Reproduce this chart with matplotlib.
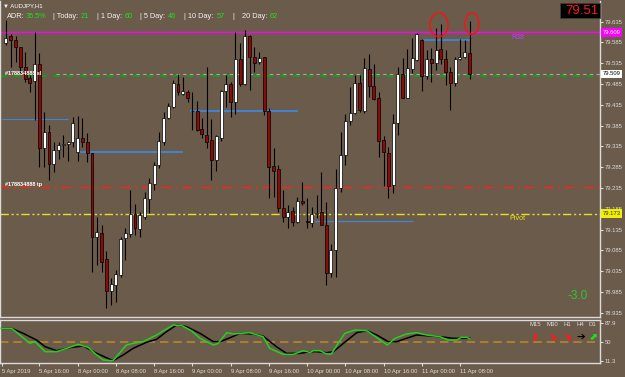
import numpy as np
import matplotlib
matplotlib.use('Agg')
import matplotlib.pyplot as plt
from matplotlib.patches import Ellipse, Rectangle

plt.rcParams['font.family'] = ['Liberation Sans', 'DejaVu Sans']

# AUDJPY H1 candles, 5 Apr 09:00 .. 11 Apr 10:00
opens = [79.583, 79.601, 79.591, 79.573, 79.526, 79.500, 79.492, 79.532, 79.332, 79.369,
         79.292, 79.325, 79.339, 79.340, 79.346, 79.322, 79.354, 79.346, 79.318, 79.118,
         79.126, 79.064, 78.986, 79.002, 79.026, 79.114, 79.124, 79.172, 79.136, 79.166,
         79.208, 79.244, 79.290, 79.346, 79.402, 79.430, 79.485, 79.461, 79.466, 79.421,
         79.421, 79.376, 79.362, 79.350, 79.302, 79.356, 79.468, 79.484, 79.441, 79.544,
         79.485, 79.600, 79.549, 79.537, 79.549, 79.420, 79.288, 79.280, 79.186, 79.166,
         79.179, 79.152, 79.203, 79.155, 79.150, 79.173, 79.176, 79.147, 79.030, 79.086,
         79.234, 79.314, 79.396, 79.414, 79.486, 79.420, 79.521, 79.481, 79.450, 79.350,
         79.320, 79.242, 79.390, 79.508, 79.452, 79.521, 79.542, 79.591, 79.505, 79.545,
         79.536, 79.568, 79.544, 79.513, 79.488, 79.544, 79.550, 79.559]
highs = [79.639, 79.605, 79.601, 79.574, 79.562, 79.506, 79.610, 79.559, 79.418, 79.386,
         79.346, 79.346, 79.362, 79.348, 79.406, 79.409, 79.402, 79.366, 79.318, 79.166,
         79.146, 79.083, 79.018, 79.038, 79.118, 79.138, 79.230, 79.196, 79.178, 79.226,
         79.258, 79.298, 79.370, 79.418, 79.438, 79.494, 79.508, 79.502, 79.470, 79.466,
         79.444, 79.404, 79.526, 79.401, 79.362, 79.470, 79.506, 79.490, 79.609, 79.583,
         79.615, 79.603, 79.574, 79.562, 79.550, 79.426, 79.330, 79.290, 79.230, 79.194,
         79.190, 79.214, 79.250, 79.211, 79.190, 79.218, 79.274, 79.202, 79.099, 79.280,
         79.370, 79.412, 79.478, 79.506, 79.506, 79.548, 79.556, 79.532, 79.466, 79.360,
         79.334, 79.412, 79.526, 79.547, 79.569, 79.596, 79.607, 79.593, 79.566, 79.572,
         79.620, 79.628, 79.567, 79.526, 79.550, 79.593, 79.591, 79.636]
lows = [79.578, 79.526, 79.538, 79.511, 79.490, 79.466, 79.398, 79.286, 79.286, 79.254,
        79.274, 79.305, 79.310, 79.300, 79.334, 79.300, 79.334, 79.298, 79.032, 79.050,
        79.034, 78.946, 78.954, 78.961, 79.022, 79.062, 79.118, 79.122, 79.118, 79.160,
        79.175, 79.230, 79.284, 79.338, 79.401, 79.426, 79.458, 79.458, 79.441, 79.374,
        79.372, 79.354, 79.332, 79.254, 79.276, 79.348, 79.430, 79.406, 79.412, 79.481,
        79.482, 79.470, 79.513, 79.532, 79.410, 79.211, 79.214, 79.178, 79.152, 79.138,
        79.144, 79.150, 79.194, 79.138, 79.142, 79.162, 79.146, 79.002, 79.022, 79.022,
        79.224, 79.290, 79.386, 79.412, 79.418, 79.414, 79.454, 79.446, 79.310, 79.240,
        79.211, 79.222, 79.362, 79.450, 79.450, 79.511, 79.540, 79.468, 79.498, 79.490,
        79.518, 79.532, 79.482, 79.422, 79.481, 79.542, 79.548, 79.496]
closes = [79.596, 79.590, 79.574, 79.525, 79.498, 79.488, 79.532, 79.332, 79.369, 79.292,
          79.326, 79.337, 79.341, 79.346, 79.390, 79.356, 79.345, 79.318, 79.118, 79.128,
          79.058, 78.986, 79.003, 79.027, 79.112, 79.126, 79.172, 79.138, 79.170, 79.211,
          79.246, 79.290, 79.348, 79.404, 79.433, 79.486, 79.465, 79.468, 79.450, 79.420,
          79.374, 79.364, 79.346, 79.302, 79.360, 79.468, 79.484, 79.441, 79.544, 79.485,
          79.600, 79.550, 79.536, 79.547, 79.421, 79.286, 79.276, 79.186, 79.166, 79.178,
          79.152, 79.203, 79.198, 79.153, 79.172, 79.175, 79.147, 79.030, 79.086, 79.234,
          79.314, 79.396, 79.414, 79.488, 79.422, 79.523, 79.481, 79.449, 79.348, 79.321,
          79.240, 79.390, 79.508, 79.452, 79.523, 79.547, 79.604, 79.505, 79.545, 79.535,
          79.567, 79.544, 79.513, 79.488, 79.544, 79.550, 79.561, 79.509]

# levels
r38 = 79.609
pivot = 79.173
bid = 79.509
order_open = 79.505
tp_level = 79.236
# blue s/r segments: (start bar, end bar, price, width)
sr_segments = [(-0.8, 13.0, 79.401, 0.8), (15.5, 37.0, 79.321, 1.3), (38.5, 61.1, 79.421, 1.3),
               (64.6, 85.1, 79.155, 0.9), (87.2, 97.1, 79.590, 1.3)]

price_ticks = [78.935, 78.985, 79.035, 79.085, 79.135, 79.185, 79.235, 79.285,
               79.335, 79.385, 79.435, 79.485, 79.535, 79.585, 79.635]
time_pos = [-0.9, 7, 15, 23, 31, 39, 47, 55, 63, 71, 79, 87, 95]
time_labels = ['5 Apr 2019', '5 Apr 16:00', '8 Apr 00:00', '8 Apr 08:00', '8 Apr 16:00',
               '9 Apr 00:00', '9 Apr 08:00', '9 Apr 16:00', '10 Apr 00:00', '10 Apr 08:00',
               '10 Apr 16:00', '11 Apr 00:00', '11 Apr 08:00']

# oscillator sub window (bar, value) readings
green_x = [-1, 1.2, 5.0, 6.1, 8.2, 10.6, 12.7, 15.1, 17.2, 19.0, 20.4, 22.4, 25.2, 26.6, 28.7,
           31.5, 35.0, 36.8, 38.8, 40.6, 43.4, 44.4, 46.2, 47.6, 51.0, 53.8, 55.2, 58.0, 60.1,
           62.2, 63.6, 64.3, 65.7, 67.1, 68.1, 69.5, 70.9, 73.0, 75.5, 77.6, 79.8, 81.4, 83.8,
           85.9, 88.0, 90.8, 92.5, 94.3, 95.3, 96.4, 97.1]
green_v = [77.1, 77.1, 46.9, 50.2, 30.1, 30.1, 36.8, 44.8, 38.8, 23.3, 13.2, 11.9, 43.5, 46.9, 50.2,
           63.7, 83.8, 82.5, 72.4, 57.0, 43.5, 46.9, 68.4, 65.7, 68.4, 60.3, 36.8, 24.7, 24.7,
           32.1, 28.7, 32.1, 32.1, 25.4, 25.4, 46.9, 67.0, 73.7, 72.4, 58.3, 43.5, 57.0, 65.7,
           68.4, 63.7, 60.3, 53.6, 53.6, 59.0, 59.0, 55.6]
black_x = [-1, 1.2, 3.6, 6.4, 8.2, 10.6, 13.7, 16.2, 19.0, 22.4, 24.5, 26.6, 29.4, 31.5, 33.6,
           35.7, 37.8, 40.6, 43.4, 44.8, 46.9, 49.0, 51.7, 53.8, 56.6, 58.7, 61.5, 63.6, 65.0,
           67.1, 68.5, 70.6, 73.4, 75.5, 77.6, 80.0, 81.7, 83.8, 85.9, 88.0, 90.8, 93.6, 95.7, 97.1]
black_v = [77.1, 77.1, 67.0, 53.6, 40.1, 32.1, 38.8, 41.5, 26.7, 11.9, 23.3, 36.8, 48.9, 54.9, 70.4,
           83.8, 80.5, 67.0, 50.2, 50.2, 58.3, 67.0, 65.7, 61.6, 40.1, 26.7, 26.7, 30.1, 30.1,
           28.0, 30.1, 46.9, 68.4, 72.4, 63.7, 50.2, 50.2, 57.0, 63.7, 62.3, 60.3, 57.0, 57.0, 57.0]

BG = '#6b5b4b'
FG = '#dcdcdc'
W, H = 625, 377


def box(x0, y0, x1, y1):
    return [x0 / W, 1 - y1 / H, (x1 - x0) / W, (y1 - y0) / H]


fig = plt.figure(figsize=(W / 100, H / 100), dpi=100, facecolor=BG)
ax = fig.add_axes(box(0, 1, 600, 317))
pa = fig.add_axes(box(0, 320, 600, 363))

for a in (ax, pa):
    a.set_facecolor(BG)
    a.set_xlim(-1.25, 124.3)
    for s in a.spines.values():
        s.set_color(FG)
        s.set_linewidth(1)
ax.spines['top'].set_visible(False)

# candles
o = np.array(opens); c = np.array(closes)
hi = np.array(highs); lo = np.array(lows)
idx = np.arange(len(o))
bull = c >= o
ax.vlines(idx, lo, hi, color='black', lw=0.8, zorder=3)
ax.bar(idx[bull], np.maximum(c - o, 0.0006)[bull], bottom=o[bull], width=0.62,
       color='white', edgecolor='black', lw=0.5, zorder=4)
ax.bar(idx[~bull], np.maximum(o - c, 0.0006)[~bull], bottom=c[~bull], width=0.62,
       color='#8b0a0a', edgecolor='black', lw=0.5, zorder=4)

# levels
ax.axhline(r38, color='#ff00ff', lw=1, zorder=2)
ax.axhline(order_open, color='#1a9a1a', lw=1.6, ls=(0, (3, 3)), zorder=2)
ax.hlines(bid, 10.5, 124.3, color='#a8a8a8', lw=0.8, ls=(0, (3, 3)), zorder=2)
ax.axhline(tp_level, color='#ff2020', lw=1, ls=(0, (7, 3, 1.5, 3)), zorder=2)
ax.axhline(pivot, color='#e8e020', lw=1, ls=(0, (6, 2, 1.5, 2, 1.5, 2)), zorder=2)
for x0, x1, p, w in sr_segments:
    ax.hlines(p, x0, x1, color='#3c86e0', lw=w, zorder=2)

ax.text(107.1, r38 - 0.004, 'R38', color='#c040ff', fontsize=5, ha='center', va='top')
ax.text(107.1, pivot - 0.004, 'Pivot', color='#e8e020', fontsize=5.2, ha='center', va='top')
ax.text(-0.2, 79.244, '#178834888 tp', color='white', fontsize=4, ha='left', va='center',
        fontweight='bold', zorder=6)
ax.text(-0.2, 79.511, '#178834888 sl', color='white', fontsize=4, ha='left', va='center',
        fontweight='bold', zorder=6)

ax.add_patch(Ellipse((90.6, 79.627), 3.8, 0.057, fill=False, ec='#ff1010', lw=1, zorder=6))
ax.add_patch(Ellipse((97.5, 79.630), 2.9, 0.051, fill=False, ec='#ff1010', lw=1, zorder=6))

ax.set_ylim(78.9247, 79.6843)
ax.set_xticks([])
ax.yaxis.tick_right()
ax.set_yticks(price_ticks)
ax.set_yticklabels(['%.3f' % t for t in price_ticks])
ax.tick_params(axis='y', colors=FG, labelsize=4.2, length=2, pad=1.5)

tr = ax.get_yaxis_transform()
for p, fc, tc in [(r38, '#ff00ff', 'white'), (bid, 'white', 'black'), (pivot, '#f0f000', '#303030')]:
    ax.text(1.004, p, '%.3f' % p, transform=tr, fontsize=4.2, color=tc, ha='left', va='center',
            clip_on=False, zorder=10,
            bbox=dict(boxstyle='square,pad=0.3', fc=fc, ec='none'))

# oscillator
pa.plot(green_x, green_v, color='#22d022', lw=1.1, zorder=3)
pa.plot(black_x, black_v, color='black', lw=1.1, zorder=2)
pa.axhline(50, color='#b8862b', lw=1.2, ls=(0, (5, 3)), zorder=1)
pa.set_ylim(7.3, 93.9)
pa.yaxis.tick_right()
pa.set_yticks([11.3, 50, 87.9])
pa.set_yticklabels(['11.3', '50', '87.9'])
pa.tick_params(axis='y', colors=FG, labelsize=4.2, length=2, pad=1.5)
pa.set_xticks(time_pos)
pa.set_xticklabels(time_labels)
pa.tick_params(axis='x', colors=FG, labelsize=4.2, length=2, pad=2)
for lbl in pa.get_xticklabels():
    lbl.set_ha('left')

# overlay texts in pixel coords
ov = fig.add_axes([0, 0, 1, 1], zorder=20)
ov.set_xlim(0, W)
ov.set_ylim(H, 0)
ov.axis('off')
ov.patch.set_alpha(0)

ov.text(3, 6, '▼ AUDJPY,H1', color='white', fontsize=4.3, va='center', ha='left')
header = [(7.3, 'ADR:', 'w'), (26, '35.5%', 'g'), (53.3, '| Today:', 'w'), (81, '21', 'g'),
          (96.7, '| 1 Day:', 'w'), (125, '60', 'g'), (140, '| 5 Day:', 'w'), (168.3, '46', 'g'),
          (184.3, '| 10 Day:', 'w'), (217, '57', 'g'), (232.3, '|', 'w'), (241.7, '20 Day:', 'w'),
          (270, '62', 'g')]
for x, t, k in header:
    ov.text(x, 16, t, color='#f2f2f2' if k == 'w' else '#1ee01e', fontsize=5.3,
            va='center', ha='left')

ov.add_patch(Rectangle((560, 3), 40, 15, fc='black', ec='#404040', lw=0.5))
ov.text(599, 10.8, '79.51', color='#ff1818', fontsize=9.5, ha='right', va='center')
ov.text(588, 296, '-3.0', color='#2ec82e', fontsize=8.5, ha='right', va='center')

for x, t in [(530, 'M15'), (546.7, 'M30'), (563.3, 'H1'), (576.7, 'H4'), (588.3, 'D1')]:
    ov.text(x, 324, t, color=FG, fontsize=4.3, ha='left', va='center')
for x, t, col in [(535, '⬇', '#ff1a1a'), (553, '⬊', '#ff1a1a'), (568, '⬊', '#ff1a1a'),
                  (581, '➔', 'black'), (593, '⬈', '#22dd22')]:
    ov.text(x, 337.5, t, color=col, fontsize=7.5, fontweight='bold', ha='center', va='center',
            family=['DejaVu Sans'])

fig.savefig('out.png', dpi=100, facecolor=BG)
